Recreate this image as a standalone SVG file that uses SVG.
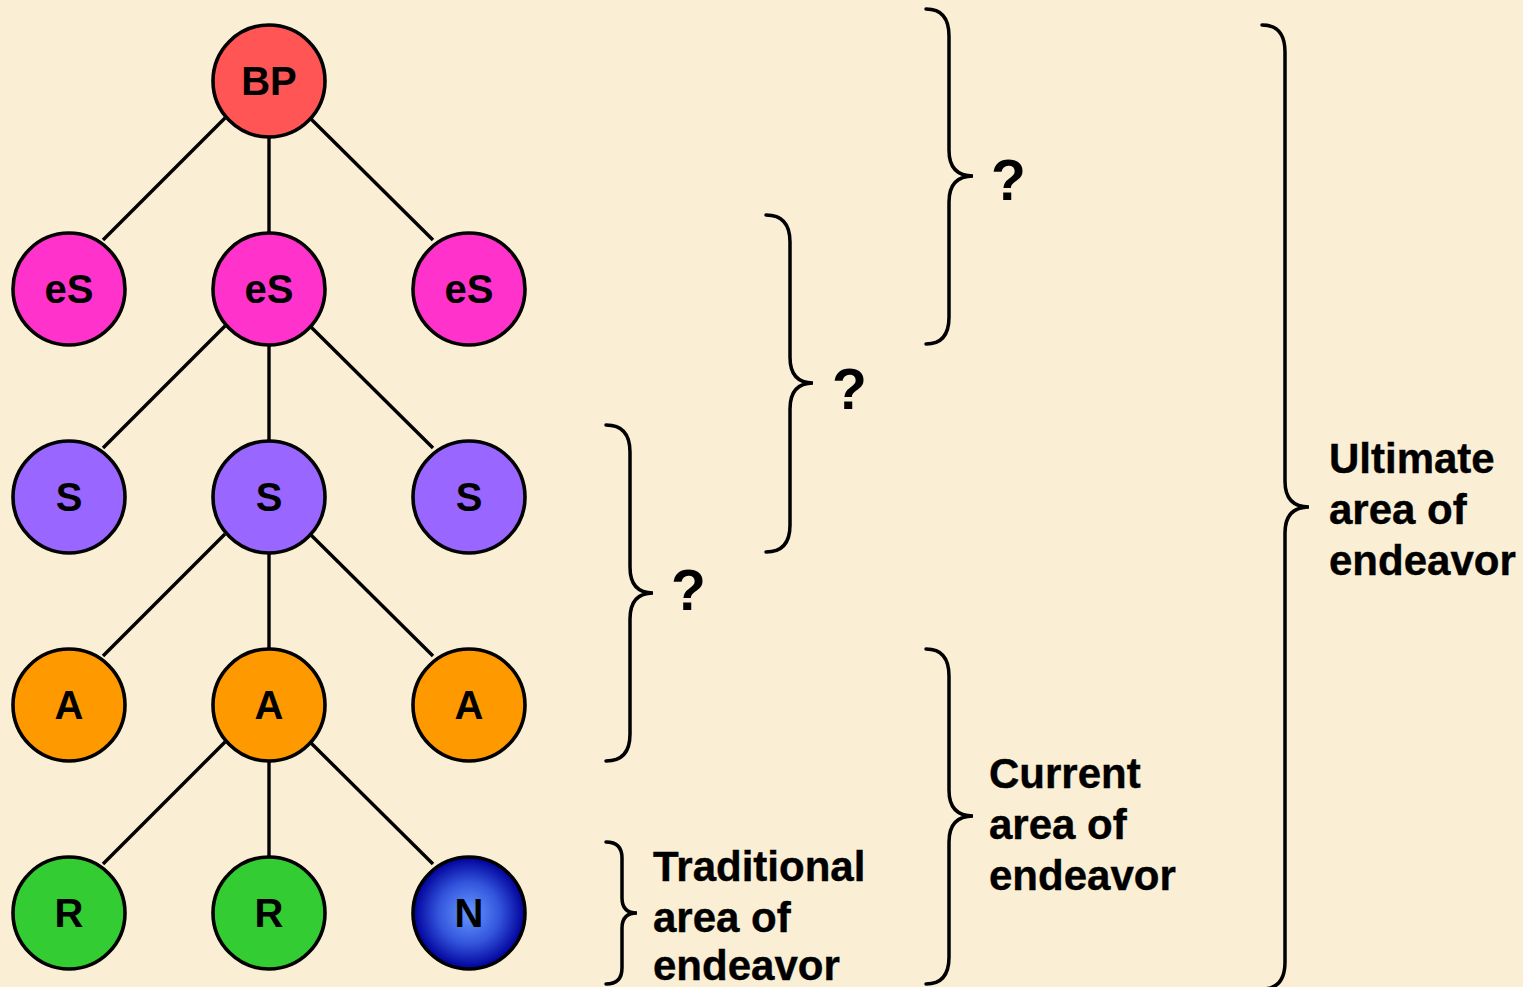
<svg xmlns="http://www.w3.org/2000/svg" width="1523" height="987" viewBox="0 0 1523 987">
<style>
.edge{stroke:#000;stroke-width:3.4;fill:none}
.brace{stroke:#000;stroke-width:3.5;fill:none;stroke-linecap:round}
.node{stroke:#000;stroke-width:3.6}
.nl{font-family:"Liberation Sans",Arial,sans-serif;font-weight:bold;font-size:40px;text-anchor:middle;fill:#000}
.lbl{font-family:"Liberation Sans",Arial,sans-serif;font-weight:bold;font-size:42px;fill:#000;stroke:#000;stroke-width:0.4}
.q{font-family:"Liberation Sans",Arial,sans-serif;font-weight:bold;font-size:57px;fill:#000}
.bp{fill:#FF5555}.es{fill:#FF33CC}.s{fill:#9966FF}.a{fill:#FF9900}.r{fill:#33CC33}
</style>
<defs>
<radialGradient id="gN" cx="0.5" cy="0.5" r="0.5">
<stop offset="0" stop-color="#6699FF"/>
<stop offset="0.55" stop-color="#3355DD"/>
<stop offset="1" stop-color="#000099"/>
</radialGradient>
</defs>
<rect x="0" y="0" width="1523" height="987" fill="#FAEFD4"/>
<g id="connectors">
<line class="edge" x1="225" y1="118" x2="103" y2="240"/>
<line class="edge" x1="269" y1="137" x2="269" y2="233"/>
<line class="edge" x1="310" y1="118" x2="433" y2="240"/>
<line class="edge" x1="225" y1="326" x2="103" y2="448"/>
<line class="edge" x1="269" y1="345" x2="269" y2="441"/>
<line class="edge" x1="310" y1="326" x2="433" y2="448"/>
<line class="edge" x1="225" y1="534" x2="103" y2="656"/>
<line class="edge" x1="269" y1="553" x2="269" y2="649"/>
<line class="edge" x1="310" y1="534" x2="433" y2="656"/>
<line class="edge" x1="225" y1="742" x2="103" y2="864"/>
<line class="edge" x1="269" y1="761" x2="269" y2="857"/>
<line class="edge" x1="310" y1="742" x2="433" y2="864"/>
</g>
<g id="n-bp"><circle class="node bp" cx="269" cy="81" r="56"/><text class="nl" x="269" y="95">BP</text></g>
<g id="n-es1"><circle class="node es" cx="69" cy="289" r="56"/><text class="nl" x="69" y="303">eS</text></g>
<g id="n-es2"><circle class="node es" cx="269" cy="289" r="56"/><text class="nl" x="269" y="303">eS</text></g>
<g id="n-es3"><circle class="node es" cx="469" cy="289" r="56"/><text class="nl" x="469" y="303">eS</text></g>
<g id="n-s1"><circle class="node s" cx="69" cy="497" r="56"/><text class="nl" x="69" y="511">S</text></g>
<g id="n-s2"><circle class="node s" cx="269" cy="497" r="56"/><text class="nl" x="269" y="511">S</text></g>
<g id="n-s3"><circle class="node s" cx="469" cy="497" r="56"/><text class="nl" x="469" y="511">S</text></g>
<g id="n-a1"><circle class="node a" cx="69" cy="705" r="56"/><text class="nl" x="69" y="719">A</text></g>
<g id="n-a2"><circle class="node a" cx="269" cy="705" r="56"/><text class="nl" x="269" y="719">A</text></g>
<g id="n-a3"><circle class="node a" cx="469" cy="705" r="56"/><text class="nl" x="469" y="719">A</text></g>
<g id="n-r1"><circle class="node r" cx="69" cy="913" r="56"/><text class="nl" x="69" y="927">R</text></g>
<g id="n-r2"><circle class="node r" cx="269" cy="913" r="56"/><text class="nl" x="269" y="927">R</text></g>
<g id="n-n"><circle class="node" fill="url(#gN)" cx="469" cy="913" r="56"/><text class="nl" x="469" y="927">N</text></g>
<g id="brace-q1">
<path class="brace" d="M926,9 Q949,9 949,36 L949,150 Q949,176 973,176 Q949,176 949,202 L949,317 Q949,344 926,344"/>
<text class="q" x="991" y="200">?</text>
</g>
<g id="brace-q2">
<path class="brace" d="M766,215 Q790,215 790,242 L790,357 Q790,383 813,383 Q790,383 790,409 L790,525 Q790,552 766,552"/>
<text class="q" x="832" y="409">?</text>
</g>
<g id="brace-q3">
<path class="brace" d="M606,425 Q630,425 630,452 L630,567 Q630,593 653,593 Q630,593 630,619 L630,734 Q630,761 606,761"/>
<text class="q" x="671" y="610">?</text>
</g>
<g id="brace-traditional">
<path class="brace" d="M606,842 Q622,842 622,858 L622,898 Q622,913 637,913 Q622,913 622,928 L622,968 Q622,984 606,984"/>
<text class="lbl" x="653" y="881">Traditional</text>
<text class="lbl" x="653" y="932">area of</text>
<text class="lbl" x="653" y="980">endeavor</text>
</g>
<g id="brace-current">
<path class="brace" d="M926,649 Q949,649 949,676 L949,790 Q949,816 973,816 Q949,816 949,842 L949,957 Q949,984 926,984"/>
<text class="lbl" x="989" y="788">Current</text>
<text class="lbl" x="989" y="839">area of</text>
<text class="lbl" x="989" y="890">endeavor</text>
</g>
<g id="brace-ultimate">
<path class="brace" d="M1262,25 Q1285,25 1285,52 L1285,481 Q1285,507 1309,507 Q1285,507 1285,533 L1285,962 Q1285,989 1262,989"/>
<text class="lbl" x="1329" y="473">Ultimate</text>
<text class="lbl" x="1329" y="524">area of</text>
<text class="lbl" x="1329" y="575">endeavor</text>
</g>
</svg>
